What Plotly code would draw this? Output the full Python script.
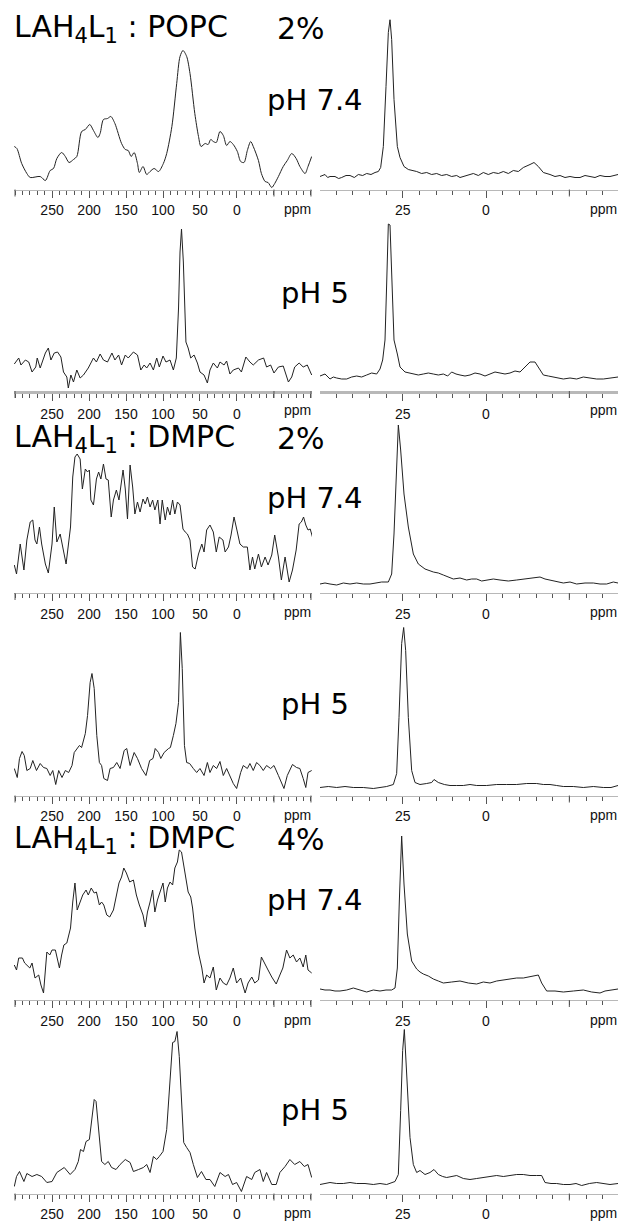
import plotly.graph_objects as go

W, H = 618, 1222

# ---------------- data (ppm, intensity a.u.) ----------------
n15_popc_ph74 = [(301,43),(297.5,41),(291,26),(284,16),(279.5,12),(266,13),(259,9),(252.5,19),(248,21),(243.5,31),
    (237,37),(232,33),(227,27),(221,30),(216.5,33),(210,58),(205,60),(199,65),(194,59),(188,52),
    (185,56),(180.5,70),(175,71),(170.5,73),(165,66),(156,46),(151,40),(147,39),(143,33),(139,37),
    (134.5,26),(132,17),(127,23),(122,15),(117.5,18),(112,21),(106,18),(99.5,26),(95,36),(88,63),
    (81.5,106),(77,133),(73,139),(68,133),(63.5,116),(57,76),(52,53),(48.6,43),(43,46),(39,45),
    (35.5,50),(32,48),(28,47),(23,58),(18.5,54),(14,44),(9.5,48),(5,45),(-0.5,38),(-5,28),
    (-9.5,27),(-14,39),(-18.5,48),(-22,43),(-29,29),(-33,16),(-38,8),(-42,7),(-47,2),(-51,6),
    (-56,13),(-62.5,23),(-68,29),(-74,36),(-80,31),(-85,23),(-92,16),(-96,23),(-101,33)]

n15_popc_ph5 = [(301,27),(295,33),(292,26),(286,31),(281.5,29),(277,19),(272,24),(270,33),(266,23),(262,33),
    (259,38),(255,43),(251.5,31),(247,38),(242.5,39),(238,34),(234.5,19),(230,14),(228,3),(224.5,16),
    (221,9),(216.5,21),(212,13),(207.5,16),(201,23),(194,33),(190,29),(185,37),(180.5,31),(175,29),
    (169,38),(165,31),(160,36),(156,26),(151,36),(147,33),(140,39),(134.5,36),(130,21),(125.5,26),
    (122,23),(117.5,28),(113,21),(108.5,33),(105,24),(100,35),(96,29),(90.5,31),(86,21),(82,33),
    (79,83),(77,139),(75,162),(72.5,129),(69,49),(66,43),(62.5,33),(58,36),(53.5,28),(50,19),
    (44.5,16),(40,8),(36.5,21),(32,28),(26.5,23),(23,29),(17.5,26),(14,30),(9.5,17),(5,21),
    (-2,23),(-6,19),(-12,34),(-17.5,29),(-22,26),(-29,31),(-36,33),(-40,24),(-45.5,26),(-50,18),
    (-56,24),(-62.5,25),(-69.5,9),(-74,14),(-78,24),(-84,28),(-89.5,24),(-95,26),(-101,16)]

n15_dmpc2_ph74 = [(301,28),(298,19),(293,49),(288,23),(284,53),(279.5,71),(276,73),(273,53),(270.5,49),(267,66),
    (264,49),(259,29),(255,20),(250,49),(247,86),(243.5,51),(239,59),(235.5,46),(231,29),(225,66),
    (222,116),(219,136),(216,139),(212,134),(209,104),(205,124),(202,121),(199.5,123),(197.5,93),(194,88),
    (190,114),(187,121),(184,114),(180.5,129),(177,114),(174,113),(170,76),(167,93),(163,103),(159.5,93),
    (154,123),(151,104),(148,74),(144.5,128),(141,106),(138,79),(134.5,91),(131,81),(127,94),(124,89),
    (121,96),(117.5,86),(114,93),(111,83),(107,93),(104,69),(101,93),(97,73),(94,86),(90.5,78),
    (87,93),(84,79),(80.5,91),(77,88),(73,64),(70,61),(67,59),(63.5,53),(60,26),(56.5,24),
    (52,39),(47.5,49),(44.5,41),(41,63),(36.5,68),(32,61),(28,41),(24,56),(19,53),(16,41),
    (11.5,46),(8,58),(4,76),(-0.5,61),(-4,49),(-8.5,46),(-14,46),(-17.5,23),(-21,36),(-24,24),
    (-29,39),(-33,26),(-38,36),(-42,28),(-47,38),(-51,58),(-56,36),(-60,13),(-65,36),(-70.5,11),
    (-75,23),(-80,43),(-84,69),(-87,71),(-90,76),(-93,68),(-96,63),(-99,64),(-102,56)]

n15_dmpc2_ph5 = [(301,27),(297,18),(294,37),(290.5,44),(287.5,40),(284,25),(279.5,27),(276,35),(271,25),(266,32),
    (261.5,28),(257,27),(252.5,20),(249,25),(245,11),(241,25),(236.5,18),(232,25),(227.5,23),(223,30),
    (220,43),(216.5,47),(213,50),(210,48),(205,62),(202,80),(198.5,113),(196,122),(193,107),(189.5,60),
    (186,33),(183,30),(180,17),(175,15),(171.5,27),(167,28),(162.5,33),(158,27),(152.5,45),(149,47),
    (144.5,30),(139,43),(134.5,37),(129,27),(123,20),(118,35),(113.5,37),(110.5,47),(106,43),(103,37),
    (98.5,43),(92.5,47),(90,48),(86,60),(82.5,72),(79,93),(76.5,163),(74,127),(71,50),(68,33),
    (64,32),(59,27),(54.5,23),(50,27),(44.5,20),(40,33),(36.5,23),(32,30),(27.5,27),(23,34),
    (18.5,20),(14,27),(9.5,20),(5,12),(0.5,7),(-5,23),(-8.5,30),(-14,27),(-17.5,32),(-22,25),
    (-26.5,33),(-31,30),(-35.5,25),(-40,30),(-45.5,27),(-50,30),(-56,20),(-63.5,7),(-68,20),(-75,31),
    (-80.5,28),(-85,27),(-89.5,17),(-93,8),(-96,23),(-101,25)]

n15_dmpc4_ph74 = [(301,35),(298,30),(295,42),(290,42),(287,37),(284,35),(280,32),(277,37),(273,22),(268,25),
    (265,15),(261.5,7),(257,48),(253,45),(250,50),(245.5,50),(242.5,38),(240,32),(237,45),(234,55),
    (230,57),(225,72),(222,98),(219,117),(216,90),(212,98),(208.5,105),(204,110),(201,105),(197,112),
    (193,107),(190,108),(186,95),(183,98),(180,95),(176,85),(172,83),(167,90),(163,105),(159.5,117),
    (156,123),(153,132),(149.5,127),(145,118),(140,120),(136,105),(132,95),(127,85),(124,73),(121,88),
    (117.5,98),(114,110),(111,88),(107.5,100),(104,108),(100,117),(97,98),(94,112),(90.5,118),(87,115),
    (84,132),(80.5,138),(78,150),(75,148),(72.5,137),(69,122),(66,108),(62.5,103),(60,92),(57,72),
    (52,47),(47.5,32),(44.5,17),(41,25),(36.5,22),(32,33),(28,10),(23,22),(18.5,17),(14,15),
    (9.5,22),(5,32),(0.5,17),(-5,22),(-11,7),(-15,17),(-20,23),(-24,17),(-29,20),(-33,43),
    (-38,35),(-42,30),(-47,23),(-53,16),(-58,25),(-62,32),(-67,50),(-71.5,42),(-76,45),(-80.5,38),
    (-85,42),(-89.5,33),(-93,45),(-96,30),(-101,27)]

n15_dmpc4_ph5 = [(301,7),(298,17),(294,22),(288,12),(284,20),(277,17),(270.5,19),(264,17),(257,11),(250,12),
    (243.5,21),(233.5,26),(225.5,19),(219,24),(214.5,32),(211.5,44),(207.5,42),(204,52),(199.5,54),(196,74),
    (193,94),(190.5,92),(187,67),(183,32),(178.5,29),(174,32),(169.5,26),(163.5,24),(158,29),(151,34),
    (144.5,31),(140,22),(133,24),(126.5,26),(122,29),(117.5,21),(113,37),(108.5,34),(105,37),(100,42),
    (95,64),(90.5,117),(87,151),(84,152),(81,162),(78,137),(75,87),(72,51),(68,46),(63.5,41),
    (59,29),(53.5,16),(48,22),(42,14),(36.5,14),(30,7),(23,21),(16,17),(11.5,19),(6,9),
    (0.5,11),(-6,2),(-13,17),(-20,14),(-24,21),(-31,24),(-35.5,12),(-40,21),(-47,9),(-53,9),
    (-58,21),(-65,27),(-71.5,34),(-78,29),(-85,32),(-91,27),(-96,29),(-101,16)]

p31_popc_ph74 = [(49.8,13),(48.3,15),(47.5,12),(46.8,13),(45.3,13),(44.2,11),(43.3,12),(42,14),(40.8,14),(39.5,12),
    (38.3,15),(37,14),(35.8,16),(34.5,15),(33.3,17),(32.3,18),
    (31.6,22),(30.8,43),(30,103),(29.3,157),(28.8,170),(28.3,150),(27.6,90),(26.6,43),(25.8,32),(24.6,23),
    (23.3,20),(22,19),(20.8,18),(19.3,16),(17.8,17),(16.3,15),(14.8,16),(13.3,14),(11.8,15),(10.3,13),(8.8,14),
    (7.8,12),(6.8,13),(5.3,15),(3.8,16),(2.3,14),(0.8,17),(-0.7,15),(-2.2,17),(-3.7,16),
    (-5.2,18),(-6.7,16),(-8.2,19),(-9.7,18),(-11.2,22),(-13.2,25),(-14.4,27),(-15.7,23),(-17.2,17),(-19.2,15),
    (-20.7,13),(-22.2,14),(-23.7,12),(-25.2,13),(-26.7,12),
    (-28.2,12),(-29.7,14),(-31.2,13),(-32.7,12),(-34.2,14),(-35.7,13),(-37.2,13),(-38.5,14),(-39.6,15)]

p31_popc_ph5 = [(49.8,15),(48.3,17),(46.8,12),(45.8,14),(44.8,13),(43.3,12),(41.8,12),(40.3,14),(38.8,15),(37.3,14),
    (35.8,16),(34.3,18),(32.8,17),(31.8,22),
    (31,31),(30.3,51),(29.8,107),(29.3,167),(28.8,166),(28.2,107),(27.6,51),(26.6,37),(25.8,24),(24.3,19),
    (23,18),(21.8,17),(20.3,16),(18.8,17),(17.3,18),(15.8,17),(14.3,16),(12.8,17),(11.5,15),(10.3,19),(9,17),
    (7.8,16),(6.3,15),(4.8,16),(3.3,18),(1.8,17),(0.3,15),(-1.2,17),(-2.7,19),(-4.2,18),(-5.7,17),
    (-7.2,18),(-8.7,20),(-10.2,19),(-11.7,24),(-13.2,29),(-14.7,29),(-16,22),(-17.2,16),(-18.7,15),(-20.2,14),
    (-21.7,13),(-23.2,12),(-25.2,13),(-27.2,12),(-29.2,14),
    (-31.2,13),(-33.2,12),(-35.2,12),(-37.4,13),(-39.6,14)]

p31_dmpc2_ph74 = [(49.8,9),(48.3,10),(46.8,9),(44.8,8),(42.8,10),(40.8,9),(38.8,10),(36.8,9),(34.8,9),(33,10),
    (31.3,11),(29.3,11),(28.3,19),(27.6,59),(27,116),
    (26.3,168),(25.6,143),(24.6,99),(23.3,66),(21.8,39),(20.3,29),(18.3,24),(15.8,21),(14.3,20),(12.8,18),
    (11.3,16),(9.8,14),(7.8,15),(5.8,13),(4.3,14),(2.8,14),(1.3,12),(-0.2,13),(-2.2,14),(-4.2,13),
    (-6.7,12),(-9.2,13),(-11.2,14),(-13.2,15),(-16.2,16),(-17.7,14),(-19.2,13),(-21.2,11),(-23.2,10),(-25.2,11),
    (-27.2,9),(-29.7,10),(-32.2,10),(-34.2,9),(-36.2,9),(-38.2,11),(-39.6,10)]

p31_dmpc2_ph5 = [(49.8,8),(47.3,9),(44.8,8),(42.3,9),(39.8,8),(36.8,8),(33.8,7),(31.8,8),(29.8,9),(27.8,11),
    (26.8,22),(26.1,78),(25.3,152),(24.7,168),
    (24.1,145),(23.3,78),(22.3,25),(21.3,13),(19.8,11),(17.8,12),(16.3,13),(15.6,16),(14.3,13),(12.5,11),(10.8,10),
    (8.8,10),(6.8,10),(4.8,11),(2.8,10),(-0.2,10),(-3.2,11),(-6.2,11),(-9.2,11),(-12.2,12),(-15.2,12),
    (-17.2,11),(-19.2,11),(-21.2,10),(-23.2,9),(-26.2,9),(-29.2,8),(-32.2,9),(-35.2,8),(-37.5,8),(-39.6,10)]

p31_dmpc4_ph74 = [(49.8,11),(48.3,10),(46.8,10),(45.3,9),(43.8,9),(41.8,10),(39.8,12),(37.8,10),(35.8,8),(33.8,10),
    (31.8,9),(30,10),(28.3,10),(27.3,12),(26.6,32),(26,99),
    (25.3,164),(24.6,116),(23.6,66),(22.3,39),(20.8,31),(19.8,28),(18.8,26),(17.3,24),(15.8,21),(14.3,19),(12.8,17),
    (10.3,18),(7.8,19),(5.3,17),(2.8,16),(0.8,18),(-1.2,17),(-3.2,19),(-5.2,20),(-7.2,21),(-9.2,22),
    (-11.2,22),(-13.2,23),(-15.7,25),(-16.7,17),(-18.2,9),(-20.7,9),(-23.2,8),(-26.2,9),(-29.2,10),(-31.7,8),(-34.2,7),
    (-35.7,9),(-37.2,10),(-39.6,11)]

p31_dmpc4_ph5 = [(49.8,9),(48.3,10),(46.8,11),(44.8,10),(42.8,10),(40.8,11),(38.8,10),(36.3,10),(33.8,9),(31.8,10),
    (29.8,9),(27.3,12),(26.3,19),(25.6,83),(25,143),
    (24.5,164),(23.8,116),(22.8,56),(21.8,29),(20.8,21),(19.8,23),(18.3,19),(16.8,21),(15.6,24),(14.3,19),
    (13,17),(11.8,16),(10.3,17),(8.8,18),(6.8,15),(4.8,14),(2.8,15),(0.8,16),(-1.2,17),(-3.2,18),
    (-5.2,17),(-7.2,18),(-9.2,19),(-11.2,19),(-13.2,18),(-15.2,18),(-16.7,18),(-17.7,11),
    (-19.5,10),(-21.2,10),(-23.2,9),(-25.2,9),(-27,10),(-28.7,8),(-31,10),(-33.2,11),(-35.2,10),(-37.2,9),(-39.6,10)]

left_series = [n15_popc_ph74, n15_popc_ph5, n15_dmpc2_ph74, n15_dmpc2_ph5, n15_dmpc4_ph74, n15_dmpc4_ph5]
right_series = [p31_popc_ph74, p31_popc_ph5, p31_dmpc2_ph74, p31_dmpc2_ph5, p31_dmpc4_ph74, p31_dmpc4_ph5]

sample_titles = ["LAH<sub>4</sub>L<sub>1</sub> : POPC", "LAH<sub>4</sub>L<sub>1</sub> : DMPC", "LAH<sub>4</sub>L<sub>1</sub> : DMPC"]
sample_ratios = ["2%", "2%", "4%"]
ph_labels = ["pH 7.4", "pH 5", "pH 7.4", "pH 5", "pH 7.4", "pH 5"]

left_tickvals = [250, 200, 150, 100, 50, 0]
left_ticktext = ["250", "200", "150", "100", "50", "0"]
left_bare_ticks = [300, -50, -100]
right_tickvals = [25, 0]
right_ticktext = ["25", "0"]
right_bare_ticks = [-25]

# ---------------- layout geometry ----------------
axis_px = [189.5, 391, 593, 795.5, 1000, 1193.5]
PLOT_H = 170
TICK_MAJOR = 7
title_px = [28, 438, 839]
ph_px = [100, 293, 498, 704, 900, 1110]

left_dom = [14 / W, 312 / W]
right_dom = [320 / W, 1.0]
left_range = [301.4, -101.4]
right_range = [49.8, -39.6]

fig = go.Figure()
layout = dict(width=W, height=H, margin=dict(l=0, r=0, t=0, b=0),
              paper_bgcolor="white", plot_bgcolor="white", showlegend=False)
annotations = []
shapes = []

tickfont = dict(family="Liberation Sans, Arial, sans-serif", size=14, color="#111")

for i in range(6):
    ybot = 1 - axis_px[i] / H
    ytop = 1 - (axis_px[i] - PLOT_H) / H
    for j, (series, dom, rng) in enumerate([(left_series[i], left_dom, left_range),
                                             (right_series[i], right_dom, right_range)]):
        k = 2 * i + j + 1
        xs = [p[0] for p in series]
        ys = [p[1] for p in series]
        fig.add_trace(go.Scatter(x=xs, y=ys, mode="lines",
                                 line=dict(color="#222", width=1,
                                           shape="spline" if (i == 0 and j == 0) else "linear",
                                           smoothing=0.8),
                                 xaxis=f"x{k}", yaxis=f"y{k}", hoverinfo="skip"))
        if j == 0:
            tv, tt, bare, mdt = left_tickvals, left_ticktext, left_bare_ticks, 10
            ppm_x = -82
        else:
            tv, tt, bare, mdt = right_tickvals, right_ticktext, right_bare_ticks, 5
            ppm_x = -35.2
        layout[f"xaxis{k}"] = dict(domain=dom, range=rng, anchor=f"y{k}",
                                   showline=True, linecolor="#b8b8b8",
                                   linewidth=3 if i == 1 else 1,
                                   ticks="outside", ticklen=TICK_MAJOR, tickwidth=1, tickcolor="#555",
                                   tickmode="array", tickvals=tv, ticktext=tt,
                                   tickfont=tickfont, ticklabelstandoff=1,
                                   minor=dict(tickmode="linear", tick0=0, dtick=mdt,
                                              ticks="outside", ticklen=4, tickcolor="#555",
                                              tickwidth=1, showgrid=False),
                                   showgrid=False, zeroline=False, fixedrange=True)
        layout[f"yaxis{k}"] = dict(domain=[ybot, ytop], range=[0, PLOT_H], anchor=f"x{k}",
                                   showticklabels=False, ticks="", showline=False,
                                   showgrid=False, zeroline=False, fixedrange=True)
        # long (major) ticks that carry no label
        for b in bare:
            shapes.append(dict(type="line", xref=f"x{k}", yref="paper", x0=b, x1=b,
                               y0=ybot, y1=1 - (axis_px[i] + TICK_MAJOR) / H,
                               line=dict(color="#555", width=1)))
        annotations.append(dict(x=ppm_x, y=1 - (axis_px[i] + 19.5) / H, xref=f"x{k}", yref="paper",
                                text="ppm", showarrow=False, xanchor="center", yanchor="middle",
                                font=tickfont))

# text labels
big = dict(family="DejaVu Sans, Verdana, sans-serif", size=30, color="#000")
for s in range(3):
    annotations.append(dict(x=12 / W, y=1 - title_px[s] / H, xref="paper", yref="paper",
                            text=sample_titles[s], showarrow=False, xanchor="left",
                            yanchor="middle", font=big))
    annotations.append(dict(x=301 / W, y=1 - title_px[s] / H, xref="paper", yref="paper",
                            text=sample_ratios[s], showarrow=False, xanchor="center",
                            yanchor="middle", font=big))
for i in range(6):
    annotations.append(dict(x=315 / W, y=1 - ph_px[i] / H, xref="paper", yref="paper",
                            text=ph_labels[i], showarrow=False, xanchor="center",
                            yanchor="middle", font=dict(family="DejaVu Sans, Verdana, sans-serif",
                                                        size=29, color="#000")))

layout["annotations"] = annotations
layout["shapes"] = shapes
fig.update_layout(**layout)
fig.write_html("out.html", config={"displayModeBar": False},
               post_script="document.body.style.margin='0';document.body.style.overflow='hidden';")
